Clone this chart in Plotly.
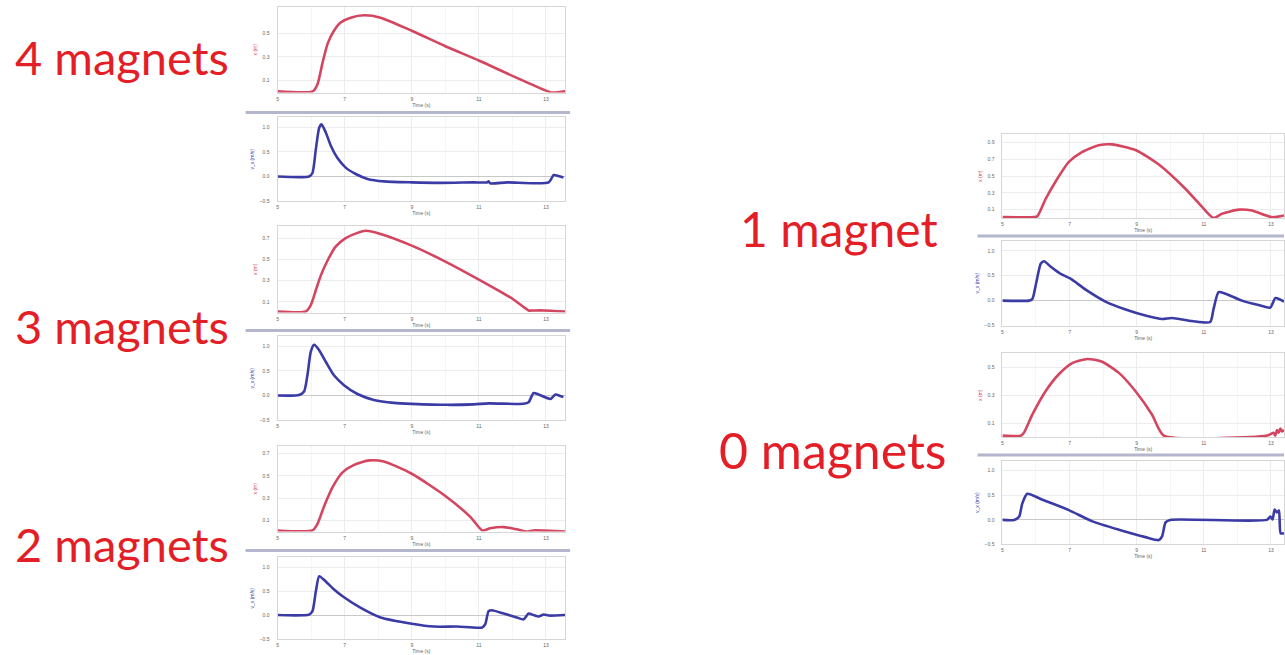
import plotly.graph_objects as go

W, H = 1285, 655

# ---- measured runs: position x (m) and velocity v_x (m/s) vs time (s) ----
# 4 magnets
t_pos_4 = [5.0, 6.05, 6.19, 6.34, 6.49, 6.68, 6.88, 7.18, 7.58, 8.07, 9.0, 10.0, 11.0, 12.0, 12.88, 13.18, 13.57]
pos_4 = [0.01, 0.01, 0.07, 0.25, 0.41, 0.52, 0.59, 0.63, 0.65, 0.63, 0.52, 0.39, 0.27, 0.14, 0.03, 0.0, 0.01]
t_vel_4 = [5.0, 5.94, 6.04, 6.14, 6.24, 6.31, 6.44, 6.59, 6.78, 7.03, 7.33, 7.68, 8.17, 9.0, 9.86, 10.85,
           11.24, 11.29, 11.34, 11.84, 13.08, 13.23, 13.37, 13.52]
vel_4 = [0.0, 0.0, 0.07, 0.55, 0.99, 1.06, 0.89, 0.62, 0.38, 0.18, 0.05, -0.05, -0.10, -0.12, -0.13, -0.12,
         -0.12, -0.10, -0.14, -0.12, -0.12, 0.03, 0.01, -0.02]

# 3 magnets
t_pos_3 = [5.0, 5.84, 5.99, 6.14, 6.29, 6.49, 6.73, 7.03, 7.38, 7.63, 8.07, 9.0, 10.0, 11.0, 12.0, 12.48,
           12.63, 12.93, 13.57]
pos_3 = [0.01, 0.01, 0.07, 0.21, 0.35, 0.49, 0.62, 0.70, 0.75, 0.77, 0.74, 0.63, 0.48, 0.31, 0.13, 0.02,
         0.02, 0.02, 0.01]
t_vel_3 = [5.0, 5.64, 5.79, 5.89, 5.99, 6.09, 6.24, 6.44, 6.68, 6.98, 7.38, 7.87, 8.47, 9.0, 10.05, 10.85,
           11.29, 12.33, 12.48, 12.63, 12.78, 13.13, 13.28, 13.42, 13.52]
vel_3 = [0.0, 0.01, 0.08, 0.41, 0.89, 1.03, 0.92, 0.68, 0.41, 0.21, 0.03, -0.09, -0.15, -0.17, -0.19, -0.18,
         -0.16, -0.17, -0.14, 0.05, 0.02, -0.07, 0.02, -0.01, -0.03]

# 2 magnets
t_pos_2 = [5.0, 6.04, 6.19, 6.39, 6.64, 6.93, 7.28, 7.73, 8.17, 9.0, 10.0, 10.75, 11.1, 11.34, 11.74, 12.13,
           12.43, 12.63, 13.57]
pos_2 = [0.01, 0.01, 0.07, 0.23, 0.40, 0.53, 0.60, 0.64, 0.63, 0.52, 0.32, 0.13, 0.01, 0.03, 0.04, 0.02,
         0.0, 0.01, 0.0]
t_vel_2 = [5.0, 5.94, 6.04, 6.14, 6.24, 6.39, 6.64, 6.98, 7.48, 8.07, 9.0, 9.66, 10.35, 11.1, 11.19, 11.29,
           11.39, 11.74, 12.13, 12.33, 12.48, 12.63, 12.78, 12.93, 13.08, 13.57]
vel_2 = [0.0, 0.01, 0.08, 0.49, 0.81, 0.73, 0.56, 0.37, 0.15, -0.05, -0.18, -0.24, -0.24, -0.26, -0.19, 0.08,
         0.10, 0.03, -0.05, -0.09, 0.03, 0.0, -0.03, 0.01, -0.01, 0.0]

# 1 magnet
t_pos_1 = [5.0, 5.94, 6.04, 6.29, 6.59, 6.98, 7.38, 7.87, 8.27, 8.98, 9.66, 10.45, 11.0, 11.29, 11.54, 12.04,
           12.43, 13.03, 13.39]
pos_1 = [0.01, 0.01, 0.02, 0.23, 0.44, 0.67, 0.79, 0.87, 0.88, 0.81, 0.64, 0.35, 0.11, 0.0, 0.05, 0.10,
         0.09, 0.01, 0.03]
t_vel_1 = [5.0, 5.79, 5.89, 6.01, 6.14, 6.24, 6.44, 6.73, 7.03, 7.48, 8.07, 8.67, 9.26, 9.76, 10.05, 10.65,
           11.19, 11.29, 11.44, 11.64, 12.14, 12.63, 12.98, 13.13, 13.28, 13.39]
vel_1 = [0.0, 0.0, 0.03, 0.37, 0.74, 0.79, 0.68, 0.54, 0.44, 0.22, -0.02, -0.18, -0.30, -0.37, -0.35, -0.41,
         -0.43, -0.17, 0.17, 0.14, 0.0, -0.09, -0.14, 0.05, 0.02, -0.02]

# 0 magnets
t_pos_0 = [5.0, 5.55, 5.64, 5.89, 6.29, 6.68, 7.08, 7.53, 7.97, 8.47, 8.96, 9.46, 9.81, 12.88, 12.98, 13.08,
           13.13, 13.18, 13.23, 13.28, 13.33, 13.39]
pos_0 = [0.01, 0.01, 0.03, 0.16, 0.33, 0.45, 0.53, 0.56, 0.54, 0.46, 0.33, 0.16, 0.01, 0.01, 0.02, 0.03,
         0.01, 0.05, 0.03, 0.06, 0.04, 0.05]
t_vel_0 = [5.0, 5.35, 5.50, 5.59, 5.74, 6.19, 6.98, 7.68, 8.47, 9.26, 9.66, 9.76, 9.86, 10.0, 12.88, 12.98,
           13.05, 13.11, 13.18, 13.24, 13.29, 13.39]
vel_0 = [0.0, 0.0, 0.07, 0.33, 0.53, 0.41, 0.20, -0.03, -0.20, -0.35, -0.41, -0.33, -0.05, 0.0, 0.0, 0.07,
         0.01, 0.21, 0.15, 0.19, -0.27, -0.27]

labels = ["4 magnets", "3 magnets", "2 magnets", "1 magnet", "0 magnets"]

# tick values on each position axis
pos_ticks_4 = [0.1, 0.3, 0.5]
pos_ticks_3 = [0.1, 0.3, 0.5, 0.7]
pos_ticks_2 = [0.1, 0.3, 0.5, 0.7]
pos_ticks_1 = [0.1, 0.3, 0.5, 0.7, 0.9]
pos_ticks_0 = [0.1, 0.3, 0.5]
vel_ticks = [-0.5, 0.0, 0.5, 1.0]
time_ticks = [5, 7, 9, 11, 13]

POS_COLOR = "#d4455f"
VEL_COLOR = "#3b3ba6"
LABEL_COLOR = "#e41e26"
GRID = "#ececec"
MINOR_GRID = "#f5f5f5"
FRAME = "#d6d6d6"
TICK_FONT = dict(family="Liberation Sans, Arial, sans-serif", size=5, color="#666666")

# panel boxes in pixels: (left, right) and (top, bottom)
LEFT = (277, 565)
RIGHT = (1003, 1285)
panels = [
    # (t, values, kind, x-box, y-box, yrange, y ticks)
    (t_pos_4, pos_4, "pos", LEFT, (7, 93), [0, 0.72], pos_ticks_4),
    (t_vel_4, vel_4, "vel", LEFT, (118, 202), [-0.5, 1.2], vel_ticks),
    (t_pos_3, pos_3, "pos", LEFT, (227, 314), [0, 0.815], pos_ticks_3),
    (t_vel_3, vel_3, "vel", LEFT, (338, 422), [-0.5, 1.2], vel_ticks),
    (t_pos_2, pos_2, "pos", LEFT, (448, 534), [0, 0.77], pos_ticks_2),
    (t_vel_2, vel_2, "vel", LEFT, (560, 642), [-0.5, 1.2], vel_ticks),
    (t_pos_1, pos_1, "pos", RIGHT, (135, 219), [0, 1.0], pos_ticks_1),
    (t_vel_1, vel_1, "vel", RIGHT, (242, 327), [-0.5, 1.2], vel_ticks),
    (t_pos_0, pos_0, "pos", RIGHT, (355, 439), [0, 0.60], pos_ticks_0),
    (t_vel_0, vel_0, "vel", RIGHT, (463, 547), [-0.5, 1.2], vel_ticks),
]

fig = go.Figure()
layout = {}

for i, (t, vals, kind, xbox, ybox, yr, yticks) in enumerate(panels):
    n = "" if i == 0 else str(i + 1)
    color = POS_COLOR if kind == "pos" else VEL_COLOR
    fig.add_trace(go.Scatter(
        x=t, y=vals, mode="lines", xaxis="x" + n, yaxis="y" + n,
        line=dict(color=color, width=2.6, shape="spline", smoothing=0.6),
        hoverinfo="skip", showlegend=False,
    ))
    xr = [5, 13.57] if xbox == LEFT else [5, 13.39]
    layout["xaxis" + n] = dict(
        domain=[xbox[0] / W, xbox[1] / W], anchor="y" + n, range=xr,
        tickvals=time_ticks, ticks="", showgrid=True, gridcolor=GRID, gridwidth=1,
        minor=dict(dtick=1, showgrid=True, gridcolor=MINOR_GRID),
        showline=True, linecolor=FRAME, mirror=True, zeroline=False,
        tickfont=TICK_FONT, ticklabelstandoff=1,
        title=dict(text="Time (s)", font=TICK_FONT, standoff=0),
    )
    title_text = "x (m)" if kind == "pos" else "v_x (m/s)"
    layout["yaxis" + n] = dict(
        domain=[1 - ybox[1] / H, 1 - ybox[0] / H], anchor="x" + n, range=yr,
        tickvals=yticks, tickformat=".1f", ticks="", showgrid=True, gridcolor=GRID,
        showline=True, linecolor=FRAME, mirror=True,
        zeroline=(kind == "vel"), zerolinecolor="#c8c8c8", zerolinewidth=1,
        tickfont=TICK_FONT, ticklabelstandoff=6,
        title=dict(text=title_text, font=dict(family=TICK_FONT["family"], size=5, color=color), standoff=4),
    )

# separators between the position and velocity graphs of each run
sep_rows = [(245, 570, 113), (245, 570, 332), (245, 570, 553), (978, 1285, 237), (978, 1285, 457)]
shapes = []
for x0, x1, y in sep_rows:
    shapes.append(dict(type="line", xref="paper", yref="paper",
                       x0=x0 / W, x1=x1 / W, y0=1 - y / H, y1=1 - y / H,
                       line=dict(color="#b4b6cc", width=3)))

# run labels
label_pos = [(12, 57, 47), (12, 328, 47), (12, 547, 47), (738, 230, 48), (717, 452, 50)]
annotations = []
for text, (x, y, size) in zip(labels, label_pos):
    annotations.append(dict(text=text, xref="paper", yref="paper", x=x / W, y=1 - y / H,
                            xanchor="left", yanchor="middle", showarrow=False,
                            font=dict(family="Lato, Liberation Sans, sans-serif", size=size, color=LABEL_COLOR)))

fig.update_layout(
    width=W, height=H, margin=dict(l=0, r=0, t=0, b=0),
    paper_bgcolor="white", plot_bgcolor="white",
    shapes=shapes, annotations=annotations, **layout,
)

fig.write_html("out.html")
